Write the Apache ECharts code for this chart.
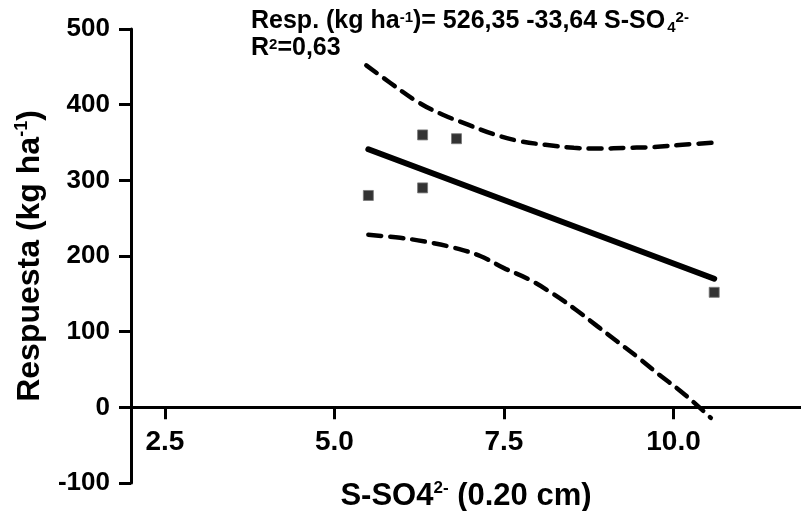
<!DOCTYPE html>
<html>
<head>
<meta charset="utf-8">
<script src="https://cdn.jsdelivr.net/npm/echarts@6/dist/echarts.min.js"></script>
<style>
html,body{margin:0;padding:0;background:#fff;}
#chart{width:801px;height:511px;}
</style>
</head>
<body>
<div id="chart"></div>
<script>
// Observed data points
var obsX = [5.5, 6.3, 6.8, 6.3, 10.6];
var obsY = [280, 360, 355, 290, 152];
// Regression line endpoints
var fitX = [5.5, 10.6];
var fitY = [341, 170];
// Upper confidence band
var upX = [5.47, 5.82, 6.24, 6.59, 6.96, 7.35, 7.72, 8.11, 8.53, 8.93, 9.30, 9.71, 10.13, 10.63];
var upY = [452, 429, 403, 387, 374, 361, 352, 347, 343, 342, 343, 344, 347, 350];
// Lower confidence band
var loX = [5.5, 5.97, 6.34, 6.76, 7.15, 7.5, 7.87, 8.24, 8.56, 8.88, 9.17, 9.49, 9.79, 10.11, 10.43, 10.55];
var loY = [228, 224, 219, 211, 200, 184, 169, 149, 129, 107, 87, 65, 43, 21, -4, -14];
// Tick labels
var xTicks = [2.5, 5.0, 7.5, 10.0];
var yMin = -100, yMax = 500, yStep = 100;

function pairs(xs, ys){ return xs.map(function(x,i){ return [x, ys[i]]; }); }

var FONT = 'Liberation Sans, Arial, sans-serif';
var chart = echarts.init(document.getElementById('chart'), null, {renderer:'canvas'});
chart.setOption({
  animation: false,
  backgroundColor: '#fff',
  title: {
    left: 246, top: 3,
    text: '{b|Resp. (kg ha}{sup|-1}{b|)= 526,35 -33,64 S-SO}{sub|4}{sup|2-}\n{b|R}{sup|2}{b|=0,63}',
    textStyle: {
      rich: {
        b: {fontFamily: FONT, fontWeight: 'bold', fontSize: 25, color: '#000', lineHeight: 27},
        sup: {fontFamily: FONT, fontWeight: 'bold', fontSize: 15, color: '#000', verticalAlign: 'top', lineHeight: 27, padding:[2,0,0,0]},
        sub: {fontFamily: FONT, fontWeight: 'bold', fontSize: 15, color: '#000', verticalAlign: 'bottom', lineHeight: 27, padding:[0,0,0,2]}
      }
    }
  },
  grid: {left: 131, right: 0, top: 29, bottom: 28, containLabel: false, outerBoundsMode: 'none'},
  xAxis: {
    type: 'value', min: 2, max: 11.88,
    splitLine: {show: false},
    axisLine: {onZero: true, lineStyle: {color: '#000', width: 3}},
    axisTick: {show: true, length: 12, inside: false, lineStyle: {color: '#000', width: 3}, customValues: xTicks},
    axisLabel: {customValues: xTicks, formatter: function(v){ return v.toFixed(1); },
      fontFamily: FONT, fontWeight: 'bold', fontSize: 28, color: '#000', margin: -55},
    name: '{b|S-SO4}{sup|2-}{b| (0.20 cm)}',
    nameLocation: 'middle', nameGap: -3,
    nameTextStyle: {
      rich: {
        b: {fontFamily: FONT, fontWeight: 'bold', fontSize: 31, color: '#000', lineHeight: 32},
        sup: {fontFamily: FONT, fontWeight: 'bold', fontSize: 17, color: '#000', verticalAlign: 'top', lineHeight: 32}
      }
    }
  },
  yAxis: {
    type: 'value', min: yMin, max: yMax, interval: yStep,
    splitLine: {show: false},
    axisLine: {lineStyle: {color: '#000', width: 3}},
    axisTick: {show: true, length: 12, lineStyle: {color: '#000', width: 3}},
    axisLabel: {fontFamily: FONT, fontWeight: 'bold', fontSize: 26, color: '#000', margin: 21},
    name: '{b|Respuesta (kg ha}{sup|-1}{b|)}',
    nameLocation: 'middle', nameGap: 84, nameRotate: 90,
    nameTextStyle: {
      rich: {
        b: {fontFamily: FONT, fontWeight: 'bold', fontSize: 32, color: '#000', lineHeight: 34},
        sup: {fontFamily: FONT, fontWeight: 'bold', fontSize: 18, color: '#000', verticalAlign: 'top', lineHeight: 34}
      }
    }
  },
  series: [
    {type: 'line', data: pairs(upX, upY), smooth: 0.4, showSymbol: false, silent: true,
     lineStyle: {color: '#000', width: 4.5, type: [13, 9], cap: 'round'}},
    {type: 'line', data: pairs(loX, loY), smooth: 0.4, showSymbol: false, silent: true,
     lineStyle: {color: '#000', width: 4.5, type: [13, 9], cap: 'round'}},
    {type: 'line', data: pairs(fitX, fitY), showSymbol: false, silent: true,
     lineStyle: {color: '#000', width: 6, cap: 'round'}},
    {type: 'scatter', data: pairs(obsX, obsY), symbol: 'rect', symbolSize: 10,
     itemStyle: {color: '#000', borderColor: '#777', borderWidth: 1}}
  ]
});
</script>
</body>
</html>
